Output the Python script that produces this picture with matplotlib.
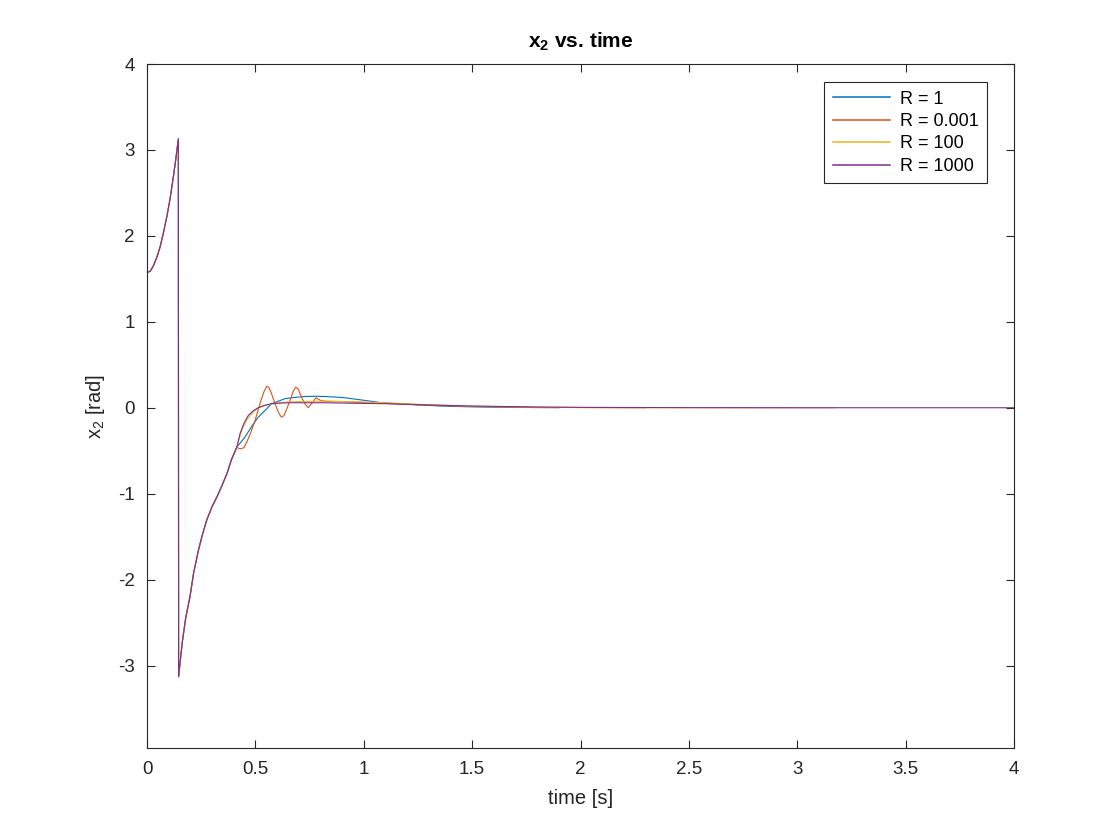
import matplotlib
matplotlib.use('Agg')
import matplotlib.pyplot as plt
import numpy as np

# shared start of every run: swing up, wrap at pi, then come back towards 0
t_common = [0.0, 0.015, 0.029, 0.045, 0.06, 0.075, 0.091, 0.106, 0.121, 0.133, 0.1445,
            0.1455, 0.153, 0.163, 0.178, 0.198, 0.215, 0.237, 0.255, 0.275, 0.3, 0.322,
            0.345, 0.368, 0.39, 0.414]
x2_common = [1.571, 1.59, 1.65, 1.75, 1.87, 2.03, 2.22, 2.43, 2.68, 2.90, 3.13,
             -3.13, -2.95, -2.72, -2.45, -2.20, -1.92, -1.66, -1.48, -1.31, -1.15, -1.04,
             -0.91, -0.77, -0.60, -0.46]

# R = 1
t_r1 = [0.414, 0.452, 0.49, 0.513, 0.545, 0.575, 0.61, 0.636, 0.68, 0.728, 0.78, 0.82,
        0.87, 0.913, 0.96, 1.006, 1.083, 1.2, 1.35, 1.5, 1.7, 1.9]
x2_r1 = [-0.46, -0.34, -0.19, -0.11, -0.03, 0.047, 0.08, 0.105, 0.12, 0.131, 0.133, 0.131,
         0.124, 0.116, 0.10, 0.085, 0.058, 0.04, 0.02, 0.01, 0.004, 0.0]

# R = 0.001
t_r0001 = [0.414, 0.425, 0.437, 0.448, 0.46, 0.48, 0.498, 0.512, 0.525, 0.54, 0.552, 0.562,
           0.572, 0.59, 0.607, 0.62, 0.632, 0.645, 0.66, 0.674, 0.686, 0.698, 0.713, 0.73,
           0.744, 0.762, 0.78, 0.80, 0.82, 0.9, 1.0, 1.1, 1.3, 1.5, 1.8, 2.0, 2.3]
x2_r0001 = [-0.46, -0.475, -0.477, -0.46, -0.40, -0.28, -0.15, -0.03, 0.08, 0.19, 0.25, 0.235,
            0.18, 0.05, -0.06, -0.11, -0.09, -0.01, 0.085, 0.19, 0.24, 0.215, 0.12, 0.04,
            0.0, 0.06, 0.116, 0.085, 0.075, 0.07, 0.06, 0.05, 0.03, 0.015, 0.005, 0.002, 0.0]

# R = 100
t_r100 = [0.414, 0.437, 0.46, 0.483, 0.513, 0.544, 0.59, 0.636, 0.7, 0.82, 0.95, 1.1,
          1.3, 1.5, 1.8, 2.0, 2.3, 2.7, 3.17]
x2_r100 = [-0.46, -0.26, -0.14, -0.07, 0.0, 0.027, 0.05, 0.065, 0.072, 0.077, 0.07, 0.058,
           0.035, 0.018, 0.006, 0.003, 0.001, 0.0, 0.0]

# R = 1000
t_r1000 = [0.414, 0.429, 0.447, 0.467, 0.49, 0.513, 0.545, 0.575, 0.62, 0.667, 0.82, 0.95,
           1.1, 1.3, 1.5, 1.8, 2.0, 2.5, 3.0, 3.5, 4.0]
x2_r1000 = [-0.46, -0.30, -0.18, -0.09, -0.035, 0.0, 0.03, 0.047, 0.055, 0.058, 0.058, 0.052,
            0.047, 0.032, 0.02, 0.008, 0.004, 0.001, 0.0, 0.0, 0.0]

labels = ['R = 1', 'R = 0.001', 'R = 100', 'R = 1000']
colors = [(0, 0.447, 0.741), (0.85, 0.325, 0.098), (0.929, 0.694, 0.125), (0.494, 0.184, 0.556)]
xticks = [0, 0.5, 1, 1.5, 2, 2.5, 3, 3.5, 4]
yticks = [-3, -2, -1, 0, 1, 2, 3, 4]


def main():
    plt.rcParams['font.family'] = ['Liberation Sans', 'DejaVu Sans']
    plt.rcParams['mathtext.fontset'] = 'custom'
    plt.rcParams['mathtext.rm'] = 'Liberation Sans'
    plt.rcParams['mathtext.bf'] = 'Liberation Sans:bold'
    plt.rcParams['mathtext.default'] = 'regular'
    plt.rcParams['axes.unicode_minus'] = False

    grey = (0.15, 0.15, 0.15)
    fig = plt.figure(figsize=(11.2, 8.4), dpi=100)
    ax = fig.add_axes([0.1313, 0.1095, 0.7741, 0.8143])

    runs = [(t_r1, x2_r1), (t_r0001, x2_r0001), (t_r100, x2_r100), (t_r1000, x2_r1000)]
    for (t, x2), lab, col in zip(runs, labels, colors):
        tt = np.concatenate([t_common[:-1], t])
        xx = np.concatenate([x2_common[:-1], x2])
        ax.plot(tt, xx, color=col, lw=0.8, label=lab)

    ax.set_xlim(0, 4)
    ax.set_ylim(-3.96, 4.0)
    ax.set_xticks(xticks)
    ax.set_xticklabels(['0', '0.5', '1', '1.5', '2', '2.5', '3', '3.5', '4'])
    ax.set_yticks(yticks)
    ax.tick_params(direction='in', top=True, right=True, length=6, width=0.8,
                   labelsize=13.5, colors=grey, pad=9)
    for s in ax.spines.values():
        s.set_color(grey)
        s.set_linewidth(0.8)

    ax.set_title(r'$\mathbf{x_2}$ vs. time', fontsize=15, fontweight='bold', pad=12)
    ax.set_xlabel('time [s]', fontsize=14.5, color=grey, labelpad=8)
    ax.set_ylabel('x$_2$ [rad]', fontsize=14.5, color=grey, labelpad=8)

    leg = ax.legend(loc='upper right', bbox_to_anchor=(0.969, 0.973), borderaxespad=0,
                    fontsize=13, handlelength=3.2, fancybox=False, framealpha=1,
                    edgecolor=grey, labelspacing=0.3, borderpad=0.45, handletextpad=0.55)
    leg.get_frame().set_linewidth(0.8)
    for ln in leg.get_lines():
        ln.set_linewidth(1.1)

    fig.savefig('out.png', dpi=100)


if __name__ == '__main__':
    main()
